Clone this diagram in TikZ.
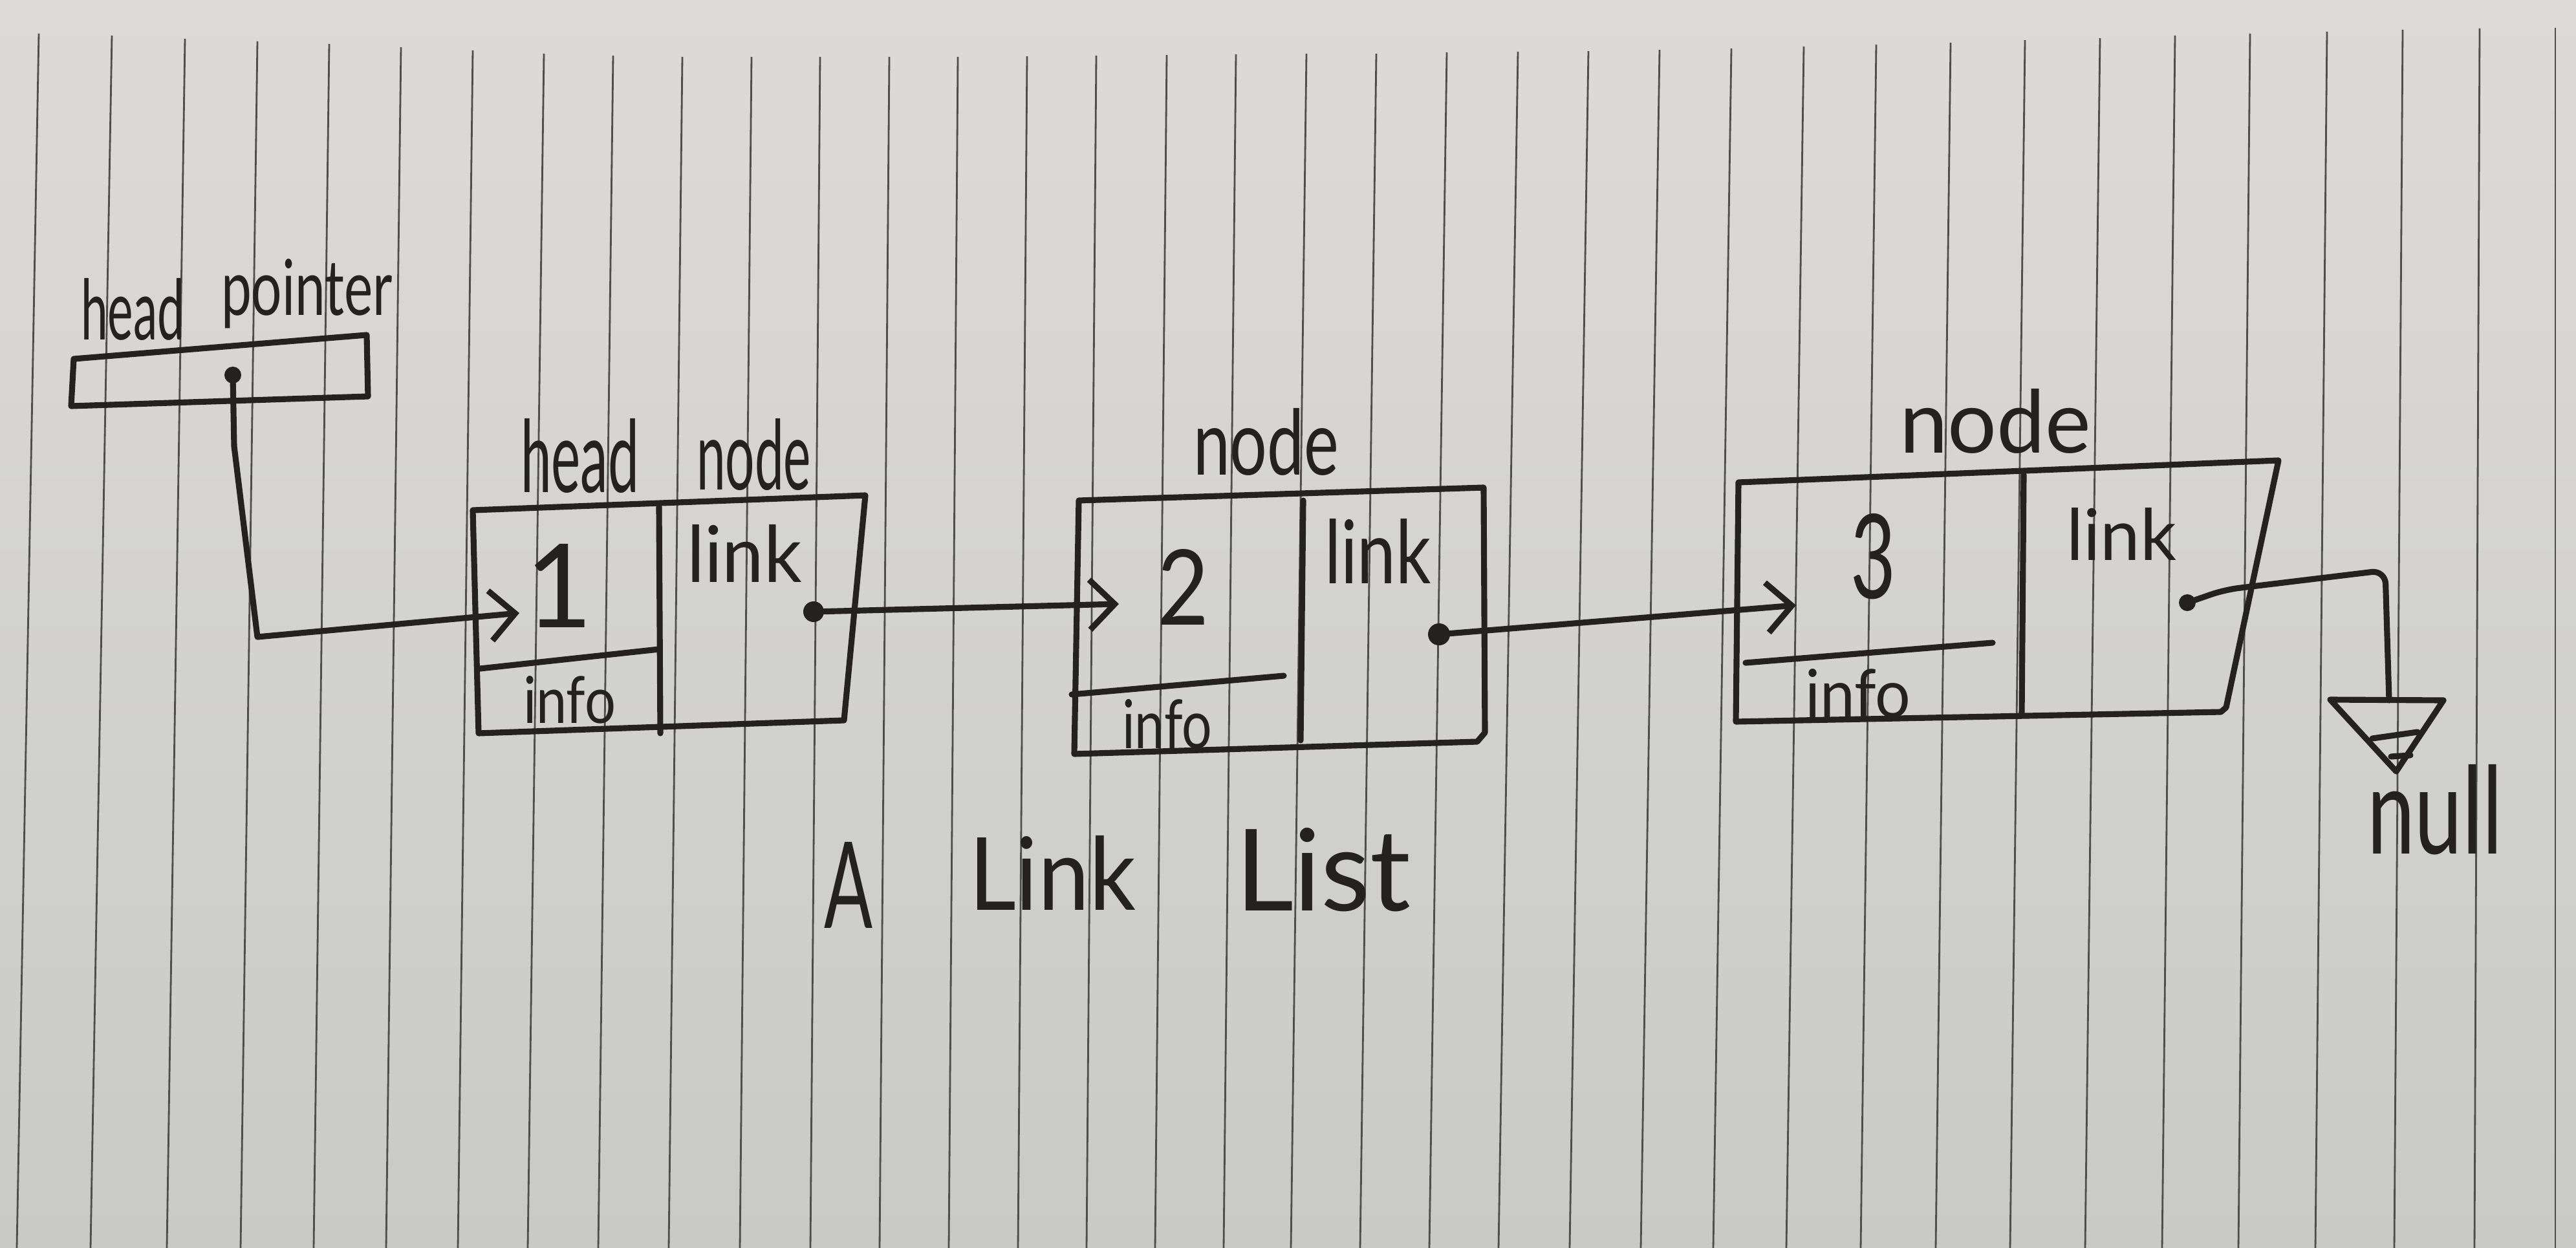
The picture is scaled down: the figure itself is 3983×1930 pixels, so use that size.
\documentclass[tikz,border=0pt]{standalone}
\usepackage{fontspec}
\setmainfont{Lato}
\usepackage{graphicx}
\usetikzlibrary{arrows.meta}
\definecolor{ink}{RGB}{38,33,33}
\definecolor{papertop}{RGB}{221,219,215}
\definecolor{paperbot}{RGB}{201,202,198}
\definecolor{ruling}{RGB}{78,78,78}
\begin{document}
\begin{tikzpicture}[x=0.01cm,y=-0.01cm,
  pen/.style={draw=ink,line width=2.6pt,line cap=round,line join=round},
  conn/.style={pen,-{Straight Barb[length=11pt,width=22pt,line width=2.6pt]}},
  hand/.style={inner sep=0pt,outer sep=0pt,anchor=base west,text=ink},
  ruleline/.style={draw=ruling,line width=0.8pt},
  inkdot/.style={circle,fill=ink,inner sep=0pt,outer sep=0pt}]
\useasboundingbox (0,0) rectangle (3983,1930);
\shade[top color=papertop,bottom color=paperbot] (0,0) rectangle (3983,1930);
% ruled paper lines
\foreach \tx/\ty/\bx in {60/52/26,173/55/140,286/60/258,398/64/372,509/68/485,620/73/597,
  731/78/708,841/83/816,948/86/925,1055/88/1034,1162/88/1144,1268/88/1253,1375/88/1360,
  1481/88/1467,1588/87/1574,1695/86/1680,1804/85/1786,1911/84/1892,2020/83/1996,
  2128/83/2103,2237/81/2210,2347/80/2317,2456/79/2427,2566/77/2537,2677/75/2649,
  2789/72/2762,2901/69/2877,3016/66/2993,3131/62/3108,3247/59/3224,3363/55/3343,
  3479/52/3461,3598/49/3580,3715/46/3702,3834/44/3826,3951/43/3951}
  \draw[ruleline] (\tx,\ty) -- (\bx,1930);

% ---------- head pointer ----------
\node[hand] (thpa) at (125,525) {\resizebox{1.60cm}{0.95cm}{head}};
\node[hand] (thpb) at (342,487) {\resizebox{2.65cm}{0.87cm}{pointer}};
\draw[pen] (114,555) -- (567,518) -- (569,613) -- (110,628) -- cycle;
\node[inkdot,minimum size=2.6mm] (hpdot) at (360,580) {};

% ---------- head node ----------
\node[hand] (thna) at (805,761) {\resizebox{1.83cm}{1.14cm}{head}};
\node[hand] (thnb) at (1077,757) {\resizebox{1.77cm}{1.10cm}{node}};
\draw[pen] (731,789) -- (1338,766) -- (1305,1114) -- (740,1134) -- cycle;
\draw[pen] (1019,784) -- (1021,1134);
\draw[pen] (742,1034) -- (1019,1004);
\node[hand,anchor=base] (v1) at (865,970) {\resizebox{!}{1.29cm}{1}};
\node[hand] (l1) at (1062,900) {\resizebox{1.78cm}{0.89cm}{link}};
\node[hand] (i1) at (809,1118) {\resizebox{1.43cm}{0.73cm}{info}};
\node[inkdot,minimum size=3.2mm] (hndot) at (1258,946) {};
\coordinate (hnin) at (803,948);

% ---------- node 2 ----------
\node[hand] (tn2) at (1845,734) {\resizebox{2.25cm}{1.03cm}{node}};
\draw[pen] (1668,774) -- (2294,754) -- (2296,1133) -- (2284,1147) -- (1661,1166) -- cycle;
\draw[pen] (2015,774) -- (2011,1145);
\draw[pen] (1657,1074) -- (1985,1045);
\node[hand,anchor=base] (v2) at (1830,966) {\resizebox{0.8cm}{1.17cm}{2}};
\node[hand] (l2) at (2048,902) {\resizebox{1.65cm}{1.0cm}{link}};
\node[hand] (i2) at (1735,1157) {\resizebox{1.39cm}{0.76cm}{info}};
\node[inkdot,minimum size=3.4mm] (n2dot) at (2225,981) {};
\coordinate (n2in) at (1730,934);

% ---------- node 3 ----------
\node[hand] (tn3) at (2937,700) {\resizebox{2.96cm}{0.99cm}{node}};
\draw[pen] (2688,746) -- (3523,712) -- (3442,1094) -- (3434,1101) -- (2684,1116) -- cycle;
\draw[pen] (3129,734) -- (3126,1105);
\draw[pen] (2699,1025) -- (3081,994);
\node[hand,anchor=base] (v3) at (2897,925) {\resizebox{0.7cm}{1.31cm}{3}};
\node[hand] (l3) at (3195,866) {\resizebox{1.70cm}{0.81cm}{link}};
\node[hand] (i3) at (2791,1109) {\resizebox{1.63cm}{0.75cm}{info}};
\node[inkdot,minimum size=2.6mm] (n3dot) at (3382,932) {};
\coordinate (n3in) at (2777,936);

% ---------- null ----------
\coordinate (nulltop) at (3694,1083);
\draw[pen] (3603,1082) -- (3778,1083) -- (3705,1193) -- cycle;
\draw[pen] (3668,1142) -- (3738,1132);
\draw[pen] (3697,1170) -- (3727,1168);
\node[hand] (tnull) at (3660,1320) {\resizebox{2.1cm}{1.38cm}{null}};

% ---------- connectors ----------
\draw[conn] (hpdot) -- (362,690) -- (398,985) -- (hnin);
\draw[conn] (hndot) -- (n2in);
\draw[conn] (n2dot) -- (n3in);
\draw[pen,rounded corners=6pt] (n3dot) -- (3440,912) -- (3688,882) -- (nulltop);

% ---------- title ----------
\node[hand] (tA) at (1274,1435) {\resizebox{0.75cm}{1.33cm}{A}};
\node[hand] (tLink) at (1498,1407) {\resizebox{2.58cm}{1.15cm}{Link}};
\node[hand] (tList) at (1910,1408) {\resizebox{2.71cm}{1.28cm}{List}};
\end{tikzpicture}
\end{document}
